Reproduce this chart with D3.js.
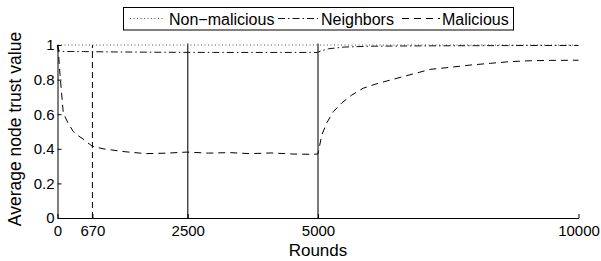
<!DOCTYPE html>
<html>
<head>
<meta charset="utf-8">
<script src="https://cdn.jsdelivr.net/npm/d3@7"></script>
<style>
  html, body { margin: 0; padding: 0; background: #fff; }
  svg { display: block; }
  text { font-family: "Liberation Sans", Arial, Helvetica, sans-serif; fill: #000; }
</style>
</head>
<body>
<svg id="chart" width="601" height="261"></svg>
<script>
// ---- data ----
const xTicks = [0, 670, 2500, 5000, 10000];
const yTicks = [0, 0.2, 0.4, 0.6, 0.8, 1];
const yTickLabels = ["0", "0.2", "0.4", "0.6", "0.8", "1"];

const seriesNames = ["Non\u2212malicious", "Neighbors", "Malicious"];

const nonMalRounds = [0, 10000];
const nonMalValues = [1.0, 1.0];

const neighborRounds = [0, 30, 100, 500, 1000, 2000, 3000, 4000, 4990, 5050, 5200, 5500, 6000, 7000, 8000, 9000, 10000];
const neighborValues = [1.0, 0.965, 0.963, 0.962, 0.960, 0.958, 0.957, 0.957, 0.957, 0.965, 0.978, 0.988, 0.993, 0.995, 0.996, 0.997, 0.997];

const maliciousRounds = [0, 20, 48, 111, 200, 303, 400, 490, 580, 662, 874, 1296, 1700, 2103, 2486, 2900, 3300, 3700, 4100, 4500, 4900, 4995, 5008, 5073, 5169, 5290, 5457, 5649, 5866, 6096, 6321, 6705, 7152, 7536, 7920, 8305, 8689, 9073, 9457, 10000];
const maliciousValues = [1.0, 0.95, 0.83, 0.607, 0.55, 0.50, 0.475, 0.457, 0.435, 0.416, 0.400, 0.383, 0.372, 0.375, 0.381, 0.375, 0.378, 0.372, 0.376, 0.370, 0.368, 0.370, 0.383, 0.480, 0.550, 0.614, 0.665, 0.711, 0.750, 0.773, 0.792, 0.823, 0.859, 0.871, 0.884, 0.894, 0.904, 0.909, 0.911, 0.912];

const markerRounds = [670, 2500, 5000];
const markerDashed = [true, false, false];

// ---- layout ----
const svg = d3.select("#chart");
const x = d3.scaleLinear().domain([0, 10000]).range([57.5, 578.5]);
const y = d3.scaleLinear().domain([0, 1]).range([218, 45]);

// vertical markers
svg.append("g").selectAll("line").data(markerRounds).join("line")
  .attr("x1", d => x(d)).attr("x2", d => x(d))
  .attr("y1", y(0)).attr("y2", (d, i) => markerDashed[i] ? y(1) : y(1) - 1.5)
  .attr("stroke", (d, i) => markerDashed[i] ? "#000" : "#333")
  .attr("stroke-width", (d, i) => markerDashed[i] ? 1 : 1.3)
  .attr("stroke-dasharray", (d, i) => markerDashed[i] ? "6,4" : null);

const line = d3.line().x(d => x(d[0])).y(d => y(d[1]));
const zip = (a, b) => a.map((v, i) => [v, b[i]]);

const styles = [
  { dash: "1,2.5", color: "#555", width: 1 },
  { dash: "7,3,1.5,3", color: "#111", width: 1 },
  { dash: "7,5", color: "#000", width: 1 }
];
const seriesData = [
  zip(nonMalRounds, nonMalValues),
  zip(neighborRounds, neighborValues),
  zip(maliciousRounds, maliciousValues)
];

svg.append("g").selectAll("path").data(seriesData).join("path")
  .attr("d", line)
  .attr("fill", "none")
  .attr("stroke", (d, i) => styles[i].color)
  .attr("stroke-width", (d, i) => styles[i].width)
  .attr("stroke-dasharray", (d, i) => styles[i].dash);

// axes
const xAxis = d3.axisBottom(x).tickValues(xTicks).tickFormat(d3.format("d"))
  .tickSizeInner(-4).tickSizeOuter(0).tickPadding(7);
const gx = svg.append("g").attr("transform", `translate(0,${y(0)})`).call(xAxis);

const yAxis = d3.axisLeft(y).tickValues(yTicks).tickFormat((d, i) => yTickLabels[i])
  .tickSizeInner(-4).tickSizeOuter(0).tickPadding(3);
const gy = svg.append("g").attr("transform", `translate(${x(0)},0)`).call(yAxis);

[gx, gy].forEach(g => {
  g.select(".domain").attr("stroke", "#000").attr("stroke-width", 1);
  g.selectAll(".tick line").attr("stroke", "#000");
  g.selectAll(".tick text").attr("font-size", "15px")
    .attr("font-family", "'Liberation Sans', Arial, sans-serif").attr("fill", "#000");
});

// axis labels
svg.append("text").attr("x", 318).attr("y", 256).attr("text-anchor", "middle")
  .attr("font-size", "17px").text("Rounds");
svg.append("text").attr("transform", "translate(21,129) rotate(-90)")
  .attr("text-anchor", "middle").attr("font-size", "17.5px").text("Average node trust value");

// legend
const lg = svg.append("g");
lg.append("rect").attr("x", 123.5).attr("y", 7.5).attr("width", 390).attr("height", 22.5)
  .attr("fill", "#fff").attr("stroke", "#000").attr("stroke-width", 1);
const legendSampleX = [[130, 165], [278, 318], [402, 440]];
const legendTextX = [169, 321, 442];
seriesNames.forEach((name, i) => {
  lg.append("line").attr("x1", legendSampleX[i][0]).attr("x2", legendSampleX[i][1])
    .attr("y1", 18.5).attr("y2", 18.5)
    .attr("stroke", styles[i].color).attr("stroke-width", styles[i].width)
    .attr("stroke-dasharray", styles[i].dash);
  lg.append("text").attr("x", legendTextX[i]).attr("y", 24.5)
    .attr("font-size", "16px").text(name);
});
</script>
</body>
</html>
